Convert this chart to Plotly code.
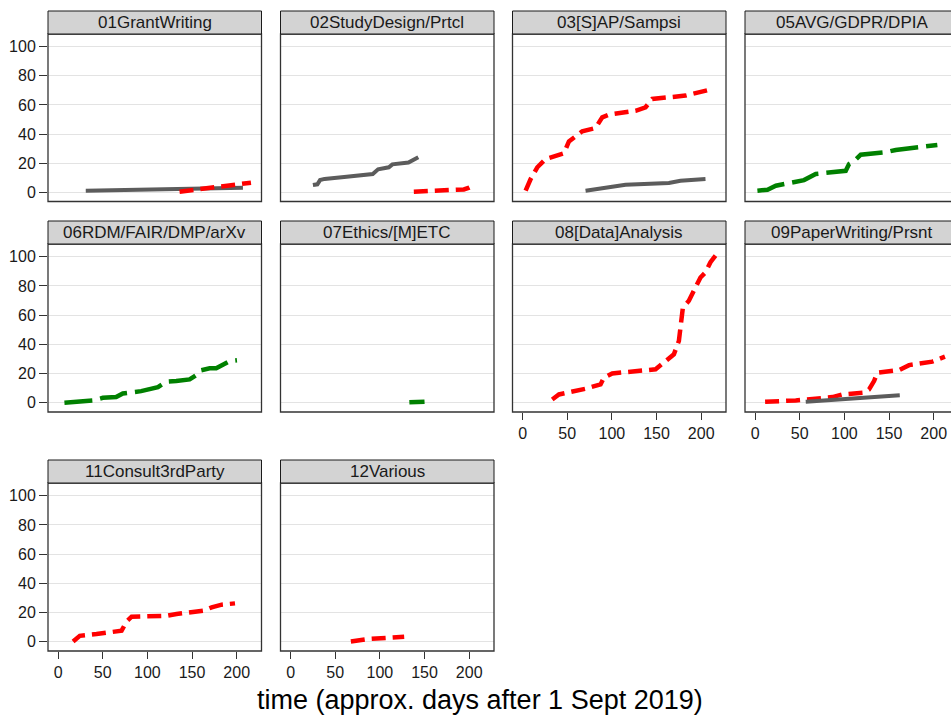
import plotly.graph_objects as go

W, H = 951, 716

# ---------------- data ----------------
panel_titles = ["01GrantWriting", "02StudyDesign/Prtcl", "03[S]AP/Sampsi", "05AVG/GDPR/DPIA",
                "06RDM/FAIR/DMP/arXv", "07Ethics/[M]ETC", "08[Data]Analysis",
                "09PaperWriting/Prsnt", "11Consult3rdParty", "12Various"]

x_ticks = [0, 50, 100, 150, 200]
y_ticks = [0, 20, 40, 60, 80, 100]
x_title = "time (approx. days after 1 Sept 2019)"

p01_grey_x = [31, 120, 207]
p01_grey_y = [1.1, 2.2, 3.2]
p01_red_x = [136, 160, 178, 195, 210, 216]
p01_red_y = [0.4, 2.2, 3.4, 4.6, 5.7, 6.6]

p02_grey_x = [25, 30, 33, 38, 60, 92, 98, 110, 114, 132, 143]
p02_grey_y = [5.0, 5.5, 8.4, 9.2, 10.5, 12.6, 15.8, 17.2, 19.2, 20.4, 24.1]
p02_red_x = [138, 170, 194, 200, 202]
p02_red_y = [0.4, 1.4, 2.0, 3.2, 3.8]

p03_red_x = [3.4, 9.0, 16.5, 25.8, 46.3, 51.9, 66.8, 81.7, 89.2, 96.7, 126.5, 137.7, 145.2, 171.2, 182.4, 212.3]
p03_red_y = [1.1, 9.1, 17.2, 22.9, 26.8, 35.0, 41.9, 44.2, 51.5, 53.3, 56.0, 58.4, 64.1, 65.7, 66.4, 70.9]
p03_grey_x = [70.5, 115.3, 163.8, 176.8, 204.8]
p03_grey_y = [1.1, 5.2, 6.4, 8.0, 9.1]

p05_green_x = [2.6, 13.9, 23.2, 34.4, 54.8, 67.9, 101.5, 105.2, 110.8, 118.3, 146.3, 157.5, 189.1, 204.1]
p05_green_y = [1.1, 1.8, 4.5, 5.7, 8.4, 12.6, 14.8, 19.4, 21.3, 25.8, 27.5, 29.1, 30.9, 32.5]

p06_green_x = [7.1, 38.9, 50.1, 65.0, 72.5, 80.0, 93.0, 111.8, 121.1, 132.3, 147.3, 154.7, 159.6, 169.7, 177.1, 192.2, 200.3]
p06_green_y = [0.0, 1.6, 3.4, 3.9, 6.4, 6.9, 8.0, 10.7, 14.4, 14.9, 16.0, 19.0, 22.2, 23.6, 23.6, 28.6, 29.1]

p07_green_x = [133, 150]
p07_green_y = [0.3, 0.8]

p08_red_x = [33.2, 40.7, 70.5, 87.3, 91.1, 100.4, 148.9, 160.0, 169.4, 175.0, 176.8, 179.5, 186.2, 193.6, 199.2, 204.8, 210.4, 216.8]
p08_red_y = [2.3, 5.7, 9.6, 12.6, 17.2, 20.1, 22.9, 28.2, 33.2, 42.3, 53.8, 65.2, 69.8, 79.0, 85.8, 89.3, 96.2, 101.4]

p09_red_x = [11.2, 45.5, 86.6, 97.8, 122.0, 127.6, 133.2, 137.0, 161.2, 172.4, 198.5, 212.6]
p09_red_y = [0.7, 1.6, 3.9, 5.7, 6.9, 9.1, 14.9, 20.6, 22.4, 25.8, 28.2, 31.6]
p09_grey_x = [56.7, 162.0]
p09_grey_y = [0.7, 5.2]

p11_red_x = [16.8, 24.3, 43.0, 59.9, 71.1, 76.7, 82.3, 121.5, 132.7, 162.6, 172.0, 183.2, 198.1]
p11_red_y = [0.2, 4.1, 5.3, 6.4, 7.6, 13.9, 17.2, 17.8, 19.0, 21.3, 23.6, 25.4, 26.3]

p12_red_x = [67.5, 85.4, 127.2]
p12_red_y = [0.2, 1.8, 3.4]

# series per panel: (x, y, kind)
panel_series = [
    [(p01_grey_x, p01_grey_y, "grey"), (p01_red_x, p01_red_y, "red")],
    [(p02_grey_x, p02_grey_y, "grey"), (p02_red_x, p02_red_y, "red")],
    [(p03_grey_x, p03_grey_y, "grey"), (p03_red_x, p03_red_y, "red")],
    [(p05_green_x, p05_green_y, "green")],
    [(p06_green_x, p06_green_y, "green")],
    [(p07_green_x, p07_green_y, "green")],
    [(p08_red_x, p08_red_y, "red")],
    [(p09_red_x, p09_red_y, "red"), (p09_grey_x, p09_grey_y, "grey")],
    [(p11_red_x, p11_red_y, "red")],
    [(p12_red_x, p12_red_y, "red")],
]

styles = {
    "grey": dict(color="#5c5c5c", width=4, dash="solid"),
    "red": dict(color="#ff0000", width=4.5, dash="14px,7px"),
    "green": dict(color="#008000", width=4.5, dash="28px,8px"),
}

# ---------------- layout geometry (window pixels) ----------------
col_px = [(48, 261.5), (280.5, 494), (512.5, 726), (745, 958.5)]
row_px = [(34, 201.5), (244, 412), (483, 651)]
strip_h = 23
px_per_unit = 0.893
x_left = -11.3
y_range = [-6.3, 108.7]
font_family = "Liberation Sans, Arial, sans-serif"


def fx(px):
    return px / W


def fy(py):
    return 1 - py / H


fig = go.Figure()
shapes = []
annotations = []
layout_axes = {}

for i, title in enumerate(panel_titles):
    r, c = divmod(i, 4)
    x0, x1 = col_px[c]
    y0, y1 = row_px[r]
    n = i + 1
    xa = "x" if n == 1 else f"x{n}"
    ya = "y" if n == 1 else f"y{n}"
    x1c = min(x1, W)
    x_right = x_left + (x1c - x0) / px_per_unit
    show_x = (r == 2) or (r == 1 and c >= 2)
    show_y = (c == 0)

    for xs, ys, kind in panel_series[i]:
        st = styles[kind]
        fig.add_trace(go.Scatter(x=xs, y=ys, mode="lines", xaxis=xa, yaxis=ya,
                                 line=dict(color=st["color"], width=st["width"], dash=st["dash"]),
                                 hoverinfo="skip", showlegend=False))

    layout_axes["xaxis" if n == 1 else f"xaxis{n}"] = dict(
        domain=[fx(x0), fx(x1c)], range=[x_left, x_right], anchor=ya,
        showgrid=False, zeroline=False, showline=False,
        tickvals=x_ticks, ticks="outside" if show_x else "", ticklen=7, tickwidth=1,
        tickcolor="#333333", showticklabels=show_x,
        tickfont=dict(family=font_family, size=16, color="#1a1a1a"))
    layout_axes["yaxis" if n == 1 else f"yaxis{n}"] = dict(
        domain=[fy(y1), fy(y0)], range=y_range, anchor=xa,
        showgrid=True, gridcolor="#e3e3e3", gridwidth=1.3, zeroline=False, showline=False,
        tickvals=y_ticks, ticks="outside" if show_y else "", ticklen=8, tickwidth=1,
        tickcolor="#333333", showticklabels=show_y,
        tickfont=dict(family=font_family, size=16, color="#1a1a1a"))

    # panel border
    shapes.append(dict(type="rect", xref="paper", yref="paper",
                       x0=fx(x0), x1=fx(x1), y0=fy(y1), y1=fy(y0),
                       line=dict(color="#333333", width=1.3), fillcolor="rgba(0,0,0,0)", layer="above"))
    # strip
    shapes.append(dict(type="rect", xref="paper", yref="paper",
                       x0=fx(x0), x1=fx(x1), y0=fy(y0), y1=fy(y0 - strip_h),
                       line=dict(color="#1a1a1a", width=1), fillcolor="#d3d3d3", layer="above"))
    annotations.append(dict(text=title, xref="paper", yref="paper",
                            x=fx((x0 + x1) / 2), y=fy(y0 - strip_h / 2),
                            xanchor="center", yanchor="middle", showarrow=False,
                            font=dict(family=font_family, size=17, color="#1a1a1a")))

annotations.append(dict(text=x_title, xref="paper", yref="paper",
                        x=fx(480.5), y=fy(700), xanchor="center", yanchor="middle",
                        showarrow=False, font=dict(family=font_family, size=27, color="#000000")))

fig.update_layout(width=W, height=H, margin=dict(l=0, r=0, t=0, b=0),
                  paper_bgcolor="white", plot_bgcolor="white", showlegend=False,
                  shapes=shapes, annotations=annotations, **layout_axes)

fig.write_html("out.html", config={"displayModeBar": False},
               post_script="document.body.style.margin='0';document.body.style.overflow='hidden';")
